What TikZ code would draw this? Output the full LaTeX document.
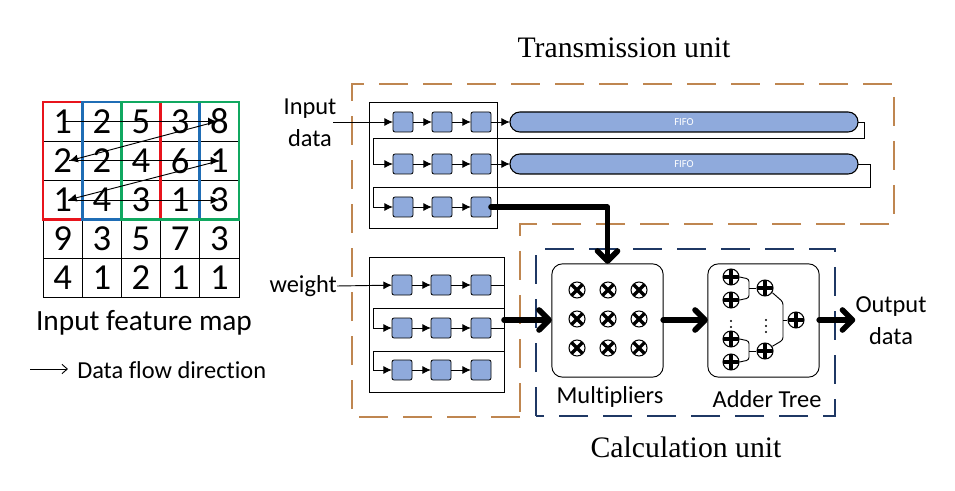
\documentclass[tikz,border=0pt]{standalone}
\usepackage{fontspec}
\setmainfont[Ligatures=NoCommon]{Carlito}
\newfontfamily\titlefont{Liberation Serif}
\usetikzlibrary{arrows.meta, positioning, calc}
\definecolor{cellblue}{HTML}{8FAADC}
\definecolor{unitorange}{HTML}{BF8650}
\definecolor{unitnavy}{HTML}{1F3864}
\definecolor{winred}{HTML}{E8141C}
\definecolor{winblue}{HTML}{1F6DB5}
\definecolor{wingreen}{HTML}{10A860}
\tikzset{
  cell/.style={rectangle, draw=black, line width=0.6pt, minimum size=29.4pt, inner sep=0pt, outer sep=0pt, font=\fontsize{27.5}{27.5}\selectfont},
  flow/.style={line width=0.7pt, -{Latex[length=6.5pt,width=6pt]}},
  wire/.style={line width=0.7pt},
  window/.style={line width=2pt},
  unit/.style={line width=1.4pt, dash pattern=on 22pt off 11pt},
  square/.style={rectangle, rounded corners=1.5pt, draw=black, line width=0.6pt, fill=cellblue, minimum size=15pt, inner sep=0pt, outer sep=0pt},
  fifo/.style={rectangle, rounded corners=7.4pt, draw=black, line width=0.8pt, fill=cellblue, minimum width=261pt, minimum height=15pt, inner sep=0pt, outer sep=0pt, text=white, font=\fontsize{8}{8}\selectfont},
  holder/.style={rectangle, draw=black, line width=0.7pt, inner sep=0pt, outer sep=0pt},
  pebox/.style={rectangle, rounded corners=8pt, draw=black, line width=0.7pt, minimum width=83.5pt, minimum height=85pt, inner sep=0pt, outer sep=0pt},
  bigflow/.style={line width=4.2pt, line cap=round, line join=round, -{Straight Barb[length=7.5pt,width=15pt,line cap=round,line join=round]}},
  mulop/.style={circle, draw=black, line width=0.8pt, fill=white, minimum size=12pt, inner sep=0pt,
    path picture={\draw[line width=2.4pt] (path picture bounding box.north west) -- (path picture bounding box.south east);
      \draw[line width=2.4pt] (path picture bounding box.north east) -- (path picture bounding box.south west);}},
  addop/.style={circle, draw=black, line width=0.8pt, fill=white, minimum size=12pt, inner sep=0pt,
    path picture={\draw[line width=2.4pt] (path picture bounding box.north) -- (path picture bounding box.south);
      \draw[line width=2.4pt] (path picture bounding box.west) -- (path picture bounding box.east);}},
  label/.style={font=\fontsize{18.3}{21}\selectfont, align=center, inner sep=0pt},
  heading/.style={font=\titlefont\fontsize{22.3}{26}\selectfont, inner sep=0pt}
}

\begin{document}
\begin{tikzpicture}[x=0.75pt, y=-0.75pt]
  \useasboundingbox (0,0) rectangle (955,491);

  % Input feature map
  \foreach \r/\y/\vals in {1/121.5/{1,2,5,3,8}, 2/160.8/{2,2,4,6,1}, 3/200/{1,4,3,1,3}, 4/239/{9,3,5,7,3}, 5/278/{4,1,2,1,1}} {
    \foreach \v [count=\c] in \vals {
      \node[cell] (c\r\c) at ({43+(\c-0.5)*39.2}, \y) {\v};
    }
  }
  \draw[window, winred] (c11.north west) rectangle (c33.south east);
  \draw[window, winblue] (c12.north west) rectangle (c34.south east);
  \draw[window, wingreen] (c13.north west) rectangle (c35.south east);

  % Data flow arrows
  \draw[flow] (c11.center) -- ([xshift=-2pt]c15.center);
  \draw[flow] ([xshift=-2pt]c15.center) -- ([xshift=5pt]c21.center);
  \draw[flow] ([xshift=5pt]c21.center) -- (c25.center);
  \draw[flow] (c25.center) -- ([xshift=4pt]c31.center);
  \draw[flow] ([xshift=4pt]c31.center) -- (c35.center);

  \node[label, font=\fontsize{22}{26}\selectfont] (maplabel) at (144,323) {Input feature map};
  \coordinate (legendstart) at (30,369);
  \coordinate (legendend) at (68,369);
  \node[label, anchor=west] (legendlabel) at (77,370) {Data flow direction};
  \draw[wire, -{Straight Barb[length=4pt,width=7pt]}] (legendstart) -- (legendend);

  % Units
  \draw[unit, unitorange] (520,417) -- (352,417) -- (352,84) -- (894,84) -- (894,224) -- (520,224) -- cycle;
  \draw[unit, unitnavy] (536,416) -- (536,249) -- (835,249) -- (835,416) -- cycle;
  \node[heading] (topunit) at (624,48) {Transmission unit};
  \node[heading] (lowunit) at (686,447) {Calculation unit};

  % Shift register holders
  \node[holder, minimum width=96pt, minimum height=95.2pt] (topholder) at (433,165.5) {};
  \node[holder, minimum width=101.2pt, minimum height=101.2pt] (lowholder) at (436.5,324.5) {};

  % Top registers
  \foreach \r/\y in {1/122, 2/164, 3/207} {
    \foreach \c/\x in {1/403, 2/442, 3/481} {
      \node[square] (s\r\c) at (\x,\y) {};
    }
    \draw[flow] (s\r1) -- (s\r2);
    \draw[flow] (s\r2) -- (s\r3);
  }
  \node[fifo] (fifoa) at (684,122) {FIFO};
  \node[fifo] (fifob) at (684,164) {FIFO};
  \draw[flow] (s13) -- (fifoa);
  \draw[flow] (s23) -- (fifob);

  \node[label] (inputlabel) at (310,123) {Input\\[3pt]data};
  \coordinate (inputend) at (333,122);
  \draw[flow] (inputend) -- (s11);
  \draw[flow] (fifoa.east) -| (864,138) -- (373,138) |- (s21.west);
  \draw[flow] (fifob.east) -| (870,187) -- (373,187) |- (s31.west);

  % Weight registers
  \foreach \r/\y in {1/285, 2/328, 3/370} {
    \foreach \c/\x in {1/402, 2/441, 3/481} {
      \node[square] (w\r\c) at (\x,\y) {};
    }
    \draw[flow] (w\r1) -- (w\r2);
    \draw[flow] (w\r2) -- (w\r3);
  }
  \node[label, anchor=east] (weightlabel) at (337,286) {weight};
  \draw[flow] (weightlabel.east) -- (w11);
  \draw[wire] (w13.east) -| (504,308);
  \draw[flow] (504,308) -- (373,308) |- (w21.west);
  \draw[wire] (w23.east) -| (504,351);
  \draw[flow] (504,351) -- (373,351) |- (w31.west);

  % Multipliers
  \node[pebox] (mulbox) at (607.5,320.5) {};
  \node[label] (mullabel) at (610,397) {Multipliers};
  \foreach \r/\y in {1/290, 2/319, 3/348} {
    \foreach \c/\x in {1/577, 2/608, 3/639} {
      \node[mulop] (m\r\c) at (\x,\y) {};
    }
  }

  % Adder tree
  \node[pebox] (addbox) at (763.5,320.5) {};
  \node[label] (addlabel) at (767,399) {Adder Tree};
  \foreach \n/\x/\y in {a/731/277, b/731/300, c/731/339, d/731/362, e/765/288, f/765/351, g/796/320} {
    \node[addop] (p\n) at (\x,\y) {};
  }
  \draw[wire, rounded corners=2pt] (pa.east) -- (749,279) -- (749,298) -- (pb.east);
  \draw[wire, rounded corners=2pt] (pc.east) -- (749,341) -- (749,360) -- (pd.east);
  \draw[wire] (749,288) -- (pe.west);
  \draw[wire] (749,351) -- (pf.west);
  \draw[wire, rounded corners=2pt] (pe.south east) ++(1pt,1pt) -- (783,302) -- (783,340) -- ($(pf.north east)+(1pt,-1pt)$);
  \draw[wire] (783,320) -- (pg.west);
  \foreach \x/\y in {731/321, 731/327, 731/333, 766/320, 766/326, 766/332} {
    \fill (\x,\y) circle (0.8pt);
  }

  % Thick data paths
  \draw[bigflow] (s33.east) -| (mulbox.north);
  \draw[bigflow] (504,320) -- (mulbox.west |- 0,320);
  \draw[bigflow] (mulbox.east |- 0,320) -- (addbox.west |- 0,320);
  \node[label] (outlabel) at (891,321) {Output\\[3pt]data};
  \draw[bigflow] (addbox.east |- 0,320) -- (outlabel.west |- 0,320);
\end{tikzpicture}
\end{document}
